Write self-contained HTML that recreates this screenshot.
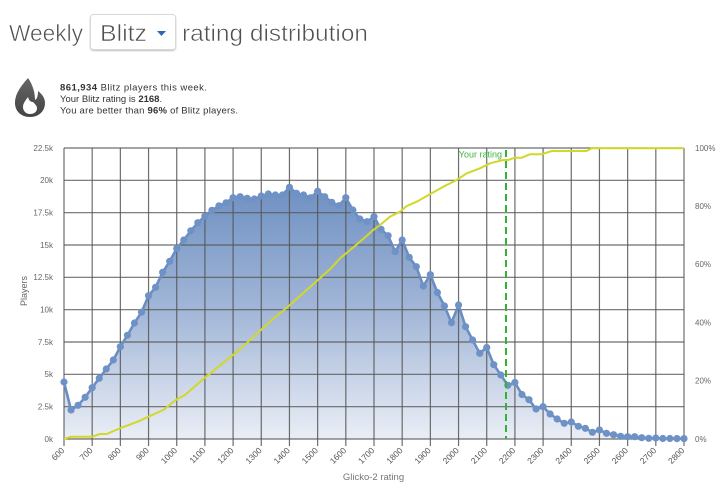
<!DOCTYPE html>
<html><head><meta charset="utf-8"><style>
html,body{margin:0;padding:0;background:#fff;}
svg{display:block;}
text{font-family:"Liberation Sans",sans-serif;}
</style></head><body>
<svg width="720" height="498" viewBox="0 0 720 498" xmlns="http://www.w3.org/2000/svg">
<defs>
<linearGradient id="ag" gradientUnits="userSpaceOnUse" x1="0" y1="187" x2="0" y2="439">
<stop offset="0" stop-color="#6f90c2"/>
<stop offset="0.5" stop-color="#a3b7d8"/>
<stop offset="1" stop-color="#eaeef6"/>
</linearGradient>
<linearGradient id="fg" x1="0" y1="0" x2="0" y2="1">
<stop offset="0" stop-color="#666"/>
<stop offset="1" stop-color="#444"/>
</linearGradient>
<filter id="sh" x="-10%" y="-10%" width="120%" height="130%"><feDropShadow dx="0" dy="1" stdDeviation="0.8" flood-color="#000" flood-opacity="0.25"/></filter>
</defs>
<rect width="720" height="498" fill="#fff"/>

<!-- Title -->
<g font-size="23.5" fill="#505050" stroke="#fff" stroke-width="0.55" paint-order="fill">
<text x="9" y="41" textLength="74" lengthAdjust="spacingAndGlyphs">Weekly</text>
<text x="182" y="41" textLength="186" lengthAdjust="spacingAndGlyphs">rating distribution</text>
</g>
<rect x="90.5" y="14.5" width="85" height="35" rx="3" fill="#fff" stroke="#d8d8d8" filter="url(#sh)"/>
<text x="100" y="41" font-size="23.5" fill="#505050" stroke="#fff" stroke-width="0.55" textLength="47" lengthAdjust="spacingAndGlyphs">Blitz</text>
<polygon points="157,31 166,31 161.5,36" fill="#2b6cb0"/>

<!-- Flame icon -->
<path fill-rule="evenodd" fill="url(#fg)" d="M28,78 C22,85 15,93 15,103 C15,111 21,117 30,117 C39,117 45,111 45,103 C45,98 42,94 38,91 C38,96 37,99 35,100 C35,93 33,85 28,78 Z M30,114 C26,114 23,111 23,107 C23,103 26,100 28,97 C29,101 31,102 33,102 C35,104 37,106 37,108 C37,112 34,114 30,114 Z"/>

<!-- Info text -->
<text x="60" y="90.7" font-size="9.5" fill="#333" textLength="147" lengthAdjust="spacing"><tspan font-weight="bold">861,934</tspan> Blitz players this week.</text>
<text x="60" y="102" font-size="9.5" fill="#333">Your Blitz rating is <tspan font-weight="bold">2168</tspan>.</text>
<text x="60" y="113.3" font-size="9.5" fill="#333" textLength="178" lengthAdjust="spacing">You are better than <tspan font-weight="bold">96%</tspan> of Blitz players.</text>

<!-- Area -->
<path fill="url(#ag)" d="M64,439 L64,382 71.05,410 78.09,405.3 85.14,397.3 92.18,387.7 99.23,378.3 106.27,369 113.32,360 120.36,346.7 127.41,335.3 134.45,323 141.5,312.2 148.55,295.7 155.59,287.3 162.64,272.3 169.68,261.3 176.73,248.5 183.77,240 190.82,230.8 197.86,222.7 204.91,216.2 211.95,210.3 219,205.8 226.05,202.8 233.09,197.7 240.14,196.7 247.18,198.3 254.23,199 261.27,196 268.32,194 275.36,195 282.41,195 289.45,187.3 296.5,193.3 303.55,195 310.59,197.7 317.64,191.3 324.68,196.7 331.73,202.3 338.77,205.7 345.82,197.7 352.86,210 359.91,219 366.95,221.7 374,216.7 381.05,229.3 388.09,235.7 395.14,251.7 402.18,240 409.23,257.3 416.27,266.7 423.32,286 430.36,274.7 437.41,292.5 444.45,306 451.5,322.7 458.55,305 465.59,326.7 472.64,340 479.68,353.3 486.73,347.5 493.77,364.7 500.82,375 507.86,385.3 514.91,382.5 521.95,394.5 529,399.7 536.05,409 543.09,406.7 550.14,414 557.18,419 564.23,423.3 571.27,422 578.32,426.3 585.36,428.3 592.41,432.3 599.45,430 606.5,433.3 613.55,434.7 620.59,436.3 627.64,436.7 634.68,436.7 641.73,437.7 648.77,438.3 655.82,438 662.86,438.5 669.91,438.5 676.95,438.6 684,438.6 L684,439 Z"/>

<!-- Grid -->
<g stroke="#555" stroke-width="1.2" stroke-opacity="0.85" fill="none">
<path d="M64,148H684M64,180.3H684M64,212.7H684M64,245H684M64,277.3H684M64,309.7H684M64,342H684M64,374.3H684M64,406.7H684M64,439H684"/>
<path d="M64,148V446M92.18,148V446M120.36,148V446M148.55,148V446M176.73,148V446M204.91,148V446M233.09,148V446M261.27,148V446M289.45,148V446M317.64,148V446M345.82,148V446M374,148V446M402.18,148V446M430.36,148V446M458.55,148V446M486.73,148V446M514.91,148V446M543.09,148V446M571.27,148V446M599.45,148V446M627.64,148V446M655.82,148V446M684,148V446"/>
</g>

<!-- Distribution line -->
<polyline fill="none" stroke="#6a8ec3" stroke-width="2.6" stroke-linejoin="round" points="64,382 71.05,410 78.09,405.3 85.14,397.3 92.18,387.7 99.23,378.3 106.27,369 113.32,360 120.36,346.7 127.41,335.3 134.45,323 141.5,312.2 148.55,295.7 155.59,287.3 162.64,272.3 169.68,261.3 176.73,248.5 183.77,240 190.82,230.8 197.86,222.7 204.91,216.2 211.95,210.3 219,205.8 226.05,202.8 233.09,197.7 240.14,196.7 247.18,198.3 254.23,199 261.27,196 268.32,194 275.36,195 282.41,195 289.45,187.3 296.5,193.3 303.55,195 310.59,197.7 317.64,191.3 324.68,196.7 331.73,202.3 338.77,205.7 345.82,197.7 352.86,210 359.91,219 366.95,221.7 374,216.7 381.05,229.3 388.09,235.7 395.14,251.7 402.18,240 409.23,257.3 416.27,266.7 423.32,286 430.36,274.7 437.41,292.5 444.45,306 451.5,322.7 458.55,305 465.59,326.7 472.64,340 479.68,353.3 486.73,347.5 493.77,364.7 500.82,375 507.86,385.3 514.91,382.5 521.95,394.5 529,399.7 536.05,409 543.09,406.7 550.14,414 557.18,419 564.23,423.3 571.27,422 578.32,426.3 585.36,428.3 592.41,432.3 599.45,430 606.5,433.3 613.55,434.7 620.59,436.3 627.64,436.7 634.68,436.7 641.73,437.7 648.77,438.3 655.82,438 662.86,438.5 669.91,438.5 676.95,438.6 684,438.6"/>
<g fill="#6f92c6">
<circle cx="64" cy="382" r="3.6"/><circle cx="71.05" cy="410" r="3.6"/><circle cx="78.09" cy="405.3" r="3.6"/><circle cx="85.14" cy="397.3" r="3.6"/><circle cx="92.18" cy="387.7" r="3.6"/><circle cx="99.23" cy="378.3" r="3.6"/><circle cx="106.27" cy="369" r="3.6"/><circle cx="113.32" cy="360" r="3.6"/><circle cx="120.36" cy="346.7" r="3.6"/><circle cx="127.41" cy="335.3" r="3.6"/><circle cx="134.45" cy="323" r="3.6"/><circle cx="141.5" cy="312.2" r="3.6"/><circle cx="148.55" cy="295.7" r="3.6"/><circle cx="155.59" cy="287.3" r="3.6"/><circle cx="162.64" cy="272.3" r="3.6"/><circle cx="169.68" cy="261.3" r="3.6"/><circle cx="176.73" cy="248.5" r="3.6"/><circle cx="183.77" cy="240" r="3.6"/><circle cx="190.82" cy="230.8" r="3.6"/><circle cx="197.86" cy="222.7" r="3.6"/><circle cx="204.91" cy="216.2" r="3.6"/><circle cx="211.95" cy="210.3" r="3.6"/><circle cx="219" cy="205.8" r="3.6"/><circle cx="226.05" cy="202.8" r="3.6"/><circle cx="233.09" cy="197.7" r="3.6"/><circle cx="240.14" cy="196.7" r="3.6"/><circle cx="247.18" cy="198.3" r="3.6"/><circle cx="254.23" cy="199" r="3.6"/><circle cx="261.27" cy="196" r="3.6"/><circle cx="268.32" cy="194" r="3.6"/><circle cx="275.36" cy="195" r="3.6"/><circle cx="282.41" cy="195" r="3.6"/><circle cx="289.45" cy="187.3" r="3.6"/><circle cx="296.5" cy="193.3" r="3.6"/><circle cx="303.55" cy="195" r="3.6"/><circle cx="310.59" cy="197.7" r="3.6"/><circle cx="317.64" cy="191.3" r="3.6"/><circle cx="324.68" cy="196.7" r="3.6"/><circle cx="331.73" cy="202.3" r="3.6"/><circle cx="338.77" cy="205.7" r="3.6"/><circle cx="345.82" cy="197.7" r="3.6"/><circle cx="352.86" cy="210" r="3.6"/><circle cx="359.91" cy="219" r="3.6"/><circle cx="366.95" cy="221.7" r="3.6"/><circle cx="374" cy="216.7" r="3.6"/><circle cx="381.05" cy="229.3" r="3.6"/><circle cx="388.09" cy="235.7" r="3.6"/><circle cx="395.14" cy="251.7" r="3.6"/><circle cx="402.18" cy="240" r="3.6"/><circle cx="409.23" cy="257.3" r="3.6"/><circle cx="416.27" cy="266.7" r="3.6"/><circle cx="423.32" cy="286" r="3.6"/><circle cx="430.36" cy="274.7" r="3.6"/><circle cx="437.41" cy="292.5" r="3.6"/><circle cx="444.45" cy="306" r="3.6"/><circle cx="451.5" cy="322.7" r="3.6"/><circle cx="458.55" cy="305" r="3.6"/><circle cx="465.59" cy="326.7" r="3.6"/><circle cx="472.64" cy="340" r="3.6"/><circle cx="479.68" cy="353.3" r="3.6"/><circle cx="486.73" cy="347.5" r="3.6"/><circle cx="493.77" cy="364.7" r="3.6"/><circle cx="500.82" cy="375" r="3.6"/><circle cx="507.86" cy="385.3" r="3.6"/><circle cx="514.91" cy="382.5" r="3.6"/><circle cx="521.95" cy="394.5" r="3.6"/><circle cx="529" cy="399.7" r="3.6"/><circle cx="536.05" cy="409" r="3.6"/><circle cx="543.09" cy="406.7" r="3.6"/><circle cx="550.14" cy="414" r="3.6"/><circle cx="557.18" cy="419" r="3.6"/><circle cx="564.23" cy="423.3" r="3.6"/><circle cx="571.27" cy="422" r="3.6"/><circle cx="578.32" cy="426.3" r="3.6"/><circle cx="585.36" cy="428.3" r="3.6"/><circle cx="592.41" cy="432.3" r="3.6"/><circle cx="599.45" cy="430" r="3.6"/><circle cx="606.5" cy="433.3" r="3.6"/><circle cx="613.55" cy="434.7" r="3.6"/><circle cx="620.59" cy="436.3" r="3.6"/><circle cx="627.64" cy="436.7" r="3.6"/><circle cx="634.68" cy="436.7" r="3.6"/><circle cx="641.73" cy="437.7" r="3.6"/><circle cx="648.77" cy="438.3" r="3.6"/><circle cx="655.82" cy="438" r="3.6"/><circle cx="662.86" cy="438.5" r="3.6"/><circle cx="669.91" cy="438.5" r="3.6"/><circle cx="676.95" cy="438.6" r="3.6"/><circle cx="684" cy="438.6" r="3.6"/>
</g>

<!-- Cumulative line -->
<polyline fill="none" stroke="#d2d82a" stroke-width="2" stroke-linejoin="round" points="64,439 71,436.7 92.3,436.7 100,434 106.7,434 120,428.3 140,420.7 148.3,416.7 163.3,410 176.7,399.3 185,395 205.3,377.3 240,349.3 271.7,320 290,305 300,296 306.7,290 330,269.3 340,258.3 355,246 373.3,230 380,225 390,216.7 400,211.7 406.7,206 416.7,201.7 431.7,193.3 443.3,186.7 456.7,180 466.7,173.3 480,168.3 490,163.3 503.3,160 508,160 515,157.7 521.7,157.7 530,154.3 541.7,154.3 551.7,151 586.7,151 591.7,148.3 684,148.3"/>

<!-- Your rating -->
<line x1="506" y1="150" x2="506" y2="439" stroke="#2fb52f" stroke-width="2" stroke-dasharray="7,4"/>
<text x="502" y="157.5" font-size="9" fill="#3cb43c" text-anchor="end">Your rating</text>

<!-- Left axis labels -->
<g font-size="8" fill="#666" text-anchor="end">
<text x="53" y="150.8">22.5k</text><text x="53" y="183.1">20k</text><text x="53" y="215.5">17.5k</text><text x="53" y="247.8">15k</text><text x="53" y="280.1">12.5k</text><text x="53" y="312.5">10k</text><text x="53" y="344.8">7.5k</text><text x="53" y="377.1">5k</text><text x="53" y="409.5">2.5k</text><text x="53" y="441.8">0k</text>
</g>
<text transform="translate(27,291) rotate(-90)" font-size="9" fill="#666" text-anchor="middle">Players</text>

<!-- Right axis labels -->
<g font-size="8" fill="#666">
<text x="695" y="150.8">100%</text><text x="695" y="209">80%</text><text x="695" y="267.2">60%</text><text x="695" y="325.4">40%</text><text x="695" y="383.6">20%</text><text x="695" y="441.8">0%</text>
</g>

<!-- X axis labels -->
<g font-size="8.5" fill="#555" text-anchor="end">
<text transform="translate(65,451) rotate(-45)">600</text>
<text transform="translate(93.2,451) rotate(-45)">700</text>
<text transform="translate(121.4,451) rotate(-45)">800</text>
<text transform="translate(149.5,451) rotate(-45)">900</text>
<text transform="translate(177.7,451) rotate(-45)">1000</text>
<text transform="translate(205.9,451) rotate(-45)">1100</text>
<text transform="translate(234.1,451) rotate(-45)">1200</text>
<text transform="translate(262.3,451) rotate(-45)">1300</text>
<text transform="translate(290.5,451) rotate(-45)">1400</text>
<text transform="translate(318.6,451) rotate(-45)">1500</text>
<text transform="translate(346.8,451) rotate(-45)">1600</text>
<text transform="translate(375,451) rotate(-45)">1700</text>
<text transform="translate(403.2,451) rotate(-45)">1800</text>
<text transform="translate(431.4,451) rotate(-45)">1900</text>
<text transform="translate(459.5,451) rotate(-45)">2000</text>
<text transform="translate(487.7,451) rotate(-45)">2100</text>
<text transform="translate(515.9,451) rotate(-45)">2200</text>
<text transform="translate(544.1,451) rotate(-45)">2300</text>
<text transform="translate(572.3,451) rotate(-45)">2400</text>
<text transform="translate(600.5,451) rotate(-45)">2500</text>
<text transform="translate(628.6,451) rotate(-45)">2600</text>
<text transform="translate(656.8,451) rotate(-45)">2700</text>
<text transform="translate(685,451) rotate(-45)">2800</text>
</g>
<text x="373.5" y="480" font-size="9.5" fill="#777" text-anchor="middle">Glicko-2 rating</text>
</svg>
</body></html>
